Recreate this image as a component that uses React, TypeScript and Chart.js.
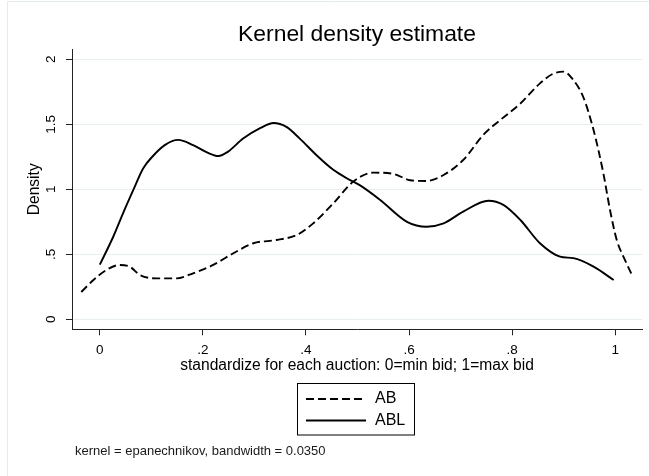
import React, { useEffect, useRef } from "react";
import { Chart, registerables } from "chart.js";

Chart.register(...registerables);

const titleText = "Kernel density estimate";
const xTitle = "standardize for each auction: 0=min bid; 1=max bid";
const yTitle = "Density";
const noteText = "kernel = epanechnikov, bandwidth = 0.0350";

const xTickLabels = ["0", ".2", ".4", ".6", ".8", "1"];
const yTickLabels = ["0", ".5", "1", "1.5", "2"];

const seriesNames = ["AB", "ABL"];

const abX = [-0.036, -0.013, 0.013, 0.039, 0.058, 0.078, 0.11, 0.149, 0.181, 0.22, 0.259, 0.298, 0.343, 0.382, 0.414, 0.453, 0.492, 0.531, 0.57, 0.602, 0.634, 0.667, 0.705, 0.744, 0.777, 0.816, 0.854, 0.88, 0.9, 0.919, 0.938, 0.958, 0.977, 0.99, 1.003, 1.019, 1.034];
const abY = [0.21, 0.3, 0.38, 0.418, 0.405, 0.34, 0.315, 0.315, 0.354, 0.418, 0.508, 0.585, 0.61, 0.648, 0.738, 0.892, 1.06, 1.128, 1.118, 1.07, 1.064, 1.11, 1.225, 1.418, 1.533, 1.66, 1.815, 1.89, 1.905, 1.84, 1.71, 1.456, 1.123, 0.84, 0.61, 0.456, 0.328];

const ablX = [0.0, 0.026, 0.045, 0.065, 0.084, 0.104, 0.126, 0.152, 0.181, 0.21, 0.23, 0.249, 0.278, 0.311, 0.337, 0.362, 0.388, 0.42, 0.453, 0.479, 0.505, 0.544, 0.596, 0.634, 0.667, 0.705, 0.754, 0.783, 0.816, 0.854, 0.893, 0.919, 0.958, 0.997];
const ablY = [0.42, 0.635, 0.815, 0.995, 1.16, 1.26, 1.34, 1.38, 1.34, 1.28, 1.256, 1.29, 1.39, 1.47, 1.51, 1.48, 1.39, 1.264, 1.15, 1.085, 1.03, 0.918, 0.75, 0.712, 0.738, 0.828, 0.912, 0.88, 0.764, 0.585, 0.482, 0.47, 0.405, 0.302];

const FONT = "'Liberation Sans', Arial, sans-serif";

const decorPlugin = {
  id: "decor",
  afterDraw(chart: any) {
    const ctx = chart.ctx;
    ctx.save();
    // faint outer frame
    ctx.strokeStyle = "#e3eded";
    ctx.lineWidth = 1;
    ctx.beginPath();
    ctx.moveTo(7.5, 476);
    ctx.lineTo(7.5, 1.5);
    ctx.lineTo(649, 1.5);
    ctx.stroke();

    // legend box
    ctx.strokeStyle = "#000";
    ctx.lineWidth = 1;
    ctx.strokeRect(297.5, 383.5, 117, 51.5);
    const rows = [399, 420.5];
    chart.data.datasets.forEach((ds: any, i: number) => {
      const y = rows[i];
      ctx.beginPath();
      ctx.setLineDash(ds.borderDash || []);
      ctx.lineWidth = ds.borderWidth;
      ctx.strokeStyle = ds.borderColor;
      ctx.moveTo(306, y);
      ctx.lineTo(366, y);
      ctx.stroke();
      ctx.setLineDash([]);
      ctx.fillStyle = "#000";
      ctx.font = `16px ${FONT}`;
      ctx.textAlign = "left";
      ctx.textBaseline = "middle";
      ctx.fillText(ds.label, 375, y);
    });

    // note
    ctx.fillStyle = "#1a1a1a";
    ctx.font = `13px ${FONT}`;
    ctx.textAlign = "left";
    ctx.textBaseline = "middle";
    ctx.fillText(noteText, 75, 451);
    ctx.restore();
  },
};

export default function App() {
  const ref = useRef<HTMLCanvasElement | null>(null);

  useEffect(() => {
    if (!ref.current) return;
    const chart = new Chart(ref.current, {
      type: "line",
      data: {
        datasets: [
          {
            label: seriesNames[0],
            data: abX.map((x, i) => ({ x, y: abY[i] })),
            borderColor: "#000",
            borderWidth: 1.9,
            borderDash: [8, 4],
            pointRadius: 0,
            cubicInterpolationMode: "monotone",
            fill: false,
          },
          {
            label: seriesNames[1],
            data: ablX.map((x, i) => ({ x, y: ablY[i] })),
            borderColor: "#000",
            borderWidth: 1.9,
            pointRadius: 0,
            cubicInterpolationMode: "monotone",
            fill: false,
          },
        ],
      },
      options: {
        animation: false,
        responsive: false,
        maintainAspectRatio: false,
        devicePixelRatio: 1,
        layout: { padding: { left: 0, right: 7, top: 0, bottom: 0 } },
        plugins: {
          legend: { display: false },
          tooltip: { enabled: false },
          title: {
            display: true,
            text: titleText,
            fullSize: false,
            color: "#000",
            font: { family: FONT, size: 22.9, weight: "normal" },
            padding: { top: 21.3, bottom: 0.5 },
          },
        },
        scales: {
          x: {
            type: "linear",
            min: -0.054,
            max: 1.052,
            afterFit: (s: any) => {
              s.height = 146.7;
            },
            ticks: {
              stepSize: 0.2,
              includeBounds: false,
              maxRotation: 0,
              minRotation: 0,
              padding: 6.5,
              color: "#000",
              font: { family: FONT, size: 13.5 },
              callback: (_v: any, i: number) => xTickLabels[i],
            },
            grid: {
              color: "rgba(0,0,0,0)",
              drawTicks: true,
              tickLength: 6,
              tickColor: "#222",
              tickWidth: 1,
            },
            border: { color: "#222", width: 1 },
            title: {
              display: true,
              text: xTitle,
              color: "#000",
              font: { family: FONT, size: 15.6 },
              padding: { top: 0, bottom: 101 },
            },
          },
          y: {
            type: "linear",
            min: -0.077,
            max: 2.077,
            afterFit: (s: any) => {
              s.width = 72;
            },
            ticks: {
              stepSize: 0.5,
              includeBounds: false,
              minRotation: 90,
              maxRotation: 90,
              crossAlign: "center",
              padding: 5,
              color: "#000",
              font: { family: FONT, size: 13.5 },
              callback: (_v: any, i: number) => yTickLabels[i],
            },
            grid: {
              color: "#e6eeee",
              lineWidth: 1,
              drawTicks: true,
              tickLength: 6,
              tickColor: "#222",
              tickWidth: 1,
            },
            border: { color: "#222", width: 1 },
            title: {
              display: true,
              text: yTitle,
              color: "#000",
              font: { family: FONT, size: 15.6 },
              padding: { top: 25, bottom: 0 },
            },
          },
        },
      },
      plugins: [decorPlugin],
    } as any);
    return () => chart.destroy();
  }, []);

  return (
    <div style={{ position: "fixed", left: 0, top: 0, width: 649, height: 476, background: "#fff" }}>
      <canvas ref={ref} width={649} height={476} style={{ width: 649, height: 476, display: "block" }} />
    </div>
  );
}
